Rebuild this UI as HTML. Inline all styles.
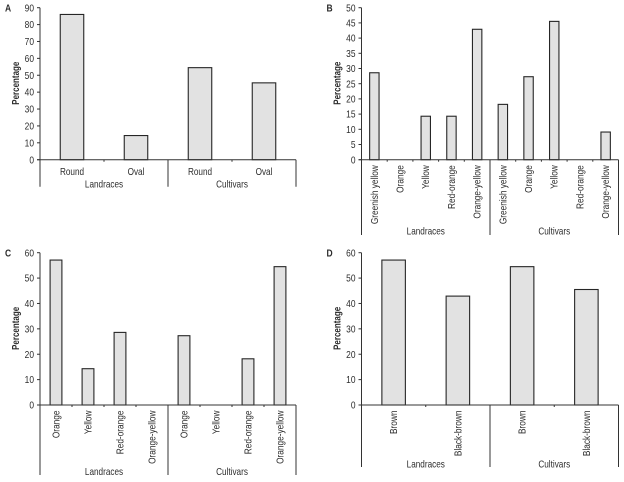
<!DOCTYPE html>
<html lang="en">
<head>
<meta charset="utf-8">
<title>Percentage charts</title>
<style>
html,body{margin:0;padding:0;background:#fff;width:624px;height:482px;overflow:hidden}
svg{display:block;filter:blur(0.35px)}
text{font-family:"Liberation Sans",sans-serif;font-size:10px;fill:#2c2c2c}
</style>
</head>
<body>
<svg id="figure" width="624" height="482" viewBox="0 0 624 482" xmlns="http://www.w3.org/2000/svg"></svg>
<script>
const groupNames = ['Landraces', 'Cultivars'];

const panelACategories = ['Round', 'Oval', 'Round', 'Oval'];
const panelAValues = [86, 14.3, 54.5, 45.5];
const panelATicks = [0, 10, 20, 30, 40, 50, 60, 70, 80, 90];

const panelBCategories = ['Greenish yellow', 'Orange', 'Yellow', 'Red-orange', 'Orange-yellow', 'Greenish yellow', 'Orange', 'Yellow', 'Red-orange', 'Orange-yellow'];
const panelBValues = [28.6, 0, 14.3, 14.3, 42.9, 18.2, 27.3, 45.5, 0, 9.1];
const panelBTicks = [0, 5, 10, 15, 20, 25, 30, 35, 40, 45, 50];

const panelCCategories = ['Orange', 'Yellow', 'Red-orange', 'Orange-yellow', 'Orange', 'Yellow', 'Red-orange', 'Orange-yellow'];
const panelCValues = [57.1, 14.3, 28.6, 0, 27.3, 0, 18.2, 54.5];
const panelCTicks = [0, 10, 20, 30, 40, 50, 60];

const panelDCategories = ['Brown', 'Black-brown', 'Brown', 'Black-brown'];
const panelDValues = [57.1, 42.9, 54.5, 45.5];
const panelDTicks = [0, 10, 20, 30, 40, 50, 60];

const svg = document.getElementById('figure');
const NS = 'http://www.w3.org/2000/svg';
const AXIS = '#333';

function line(parent, x1, y1, x2, y2, width) {
  const el = document.createElementNS(NS, 'line');
  el.setAttribute('x1', x1);
  el.setAttribute('y1', y1);
  el.setAttribute('x2', x2);
  el.setAttribute('y2', y2);
  el.setAttribute('stroke', AXIS);
  el.setAttribute('stroke-width', width || 1);
  parent.appendChild(el);
  return el;
}

function label(parent, str, x, y, anchor, rotate, sx, bold) {
  const el = document.createElementNS(NS, 'text');
  el.textContent = str;
  el.setAttribute('text-anchor', anchor);
  el.setAttribute('transform', 'translate(' + x + ',' + y + ')' + (rotate ? ' rotate(-90)' : '') + ' scale(' + sx + ',1)');
  if (bold) el.setAttribute('font-weight', 'bold');
  parent.appendChild(el);
  return el;
}

function drawPanel(letter, cats, vals, ticks, box) {
  const g = document.createElementNS(NS, 'g');
  
  
  svg.appendChild(g);

  const maxTick = ticks[ticks.length - 1];
  const yScale = v => box.y0 - (v / maxTick) * (box.y0 - box.yTop);
  const step = (box.x1 - box.x0) / cats.length;
  const xScale = i => box.x0 + step * (i + 0.5);
  const half = cats.length / 2;

  // bars
  cats.forEach((c, i) => {
    const r = document.createElementNS(NS, 'rect');
    const top = yScale(vals[i]);
    r.setAttribute('x', xScale(i) - box.barW / 2);
    r.setAttribute('y', top);
    r.setAttribute('width', box.barW);
    r.setAttribute('height', Math.max(0, box.y0 - top));
    r.setAttribute('fill', '#e2e2e2');
    r.setAttribute('stroke', '#262626');
    r.setAttribute('stroke-width', '1.1');
    
    
    g.appendChild(r);
  });

  // y axis
  const yAxis = line(g, box.x0, box.yTop, box.x0, box.y0);
  
  
  ticks.forEach(t => {
    const y = yScale(t);
    line(g, box.x0 - 3, y, box.x0, y);
    const tl = label(g, String(t), box.x0 - 6, y + 3.6, 'end', false, 0.84, false);
    
    
  });

  // x axis and separators
  const xAxis = line(g, box.x0 - 3, box.y0, box.x1, box.y0);
  
  
  for (let i = 1; i < cats.length; i++) {
    if (i !== half) line(g, box.x0 + step * i, box.y0, box.x0 + step * i, box.y0 + 2);
  }
  [0, half, cats.length].forEach(i => {
    const d = line(g, box.x0 + step * i, box.y0, box.x0 + step * i, box.yBottom);
    
    
  });

  // category labels
  cats.forEach((c, i) => {
    const t = box.rotated
      ? label(g, c, xScale(i) + 3.4, box.y0 + 5.5, 'end', true, 0.83, false)
      : label(g, c, xScale(i), box.y0 + 15.2, 'middle', false, 0.82, false);
    
    
  });

  // group labels
  groupNames.forEach((n, i) => {
    const x = box.x0 + step * half * (i + 0.5);
    const t = label(g, n, x, box.groupY, 'middle', false, 0.82, false);
    
    
  });

  // axis title
  const title = label(g, 'Percentage', box.x0 - 21, (box.y0 + box.yTop) / 2 - 0.5, 'middle', true, 0.8, true);
  
  

  // panel letter
  const pl = label(g, letter, box.x0 - 35, box.yTop + 4, 'start', false, 0.85, true);
  
  
}

drawPanel('A', panelACategories, panelAValues, panelATicks,
  {x0: 40, x1: 296, y0: 159.7, yTop: 7.7, yBottom: 186.7, barW: 23.5, rotated: false, groupY: 187.3});
drawPanel('B', panelBCategories, panelBValues, panelBTicks,
  {x0: 361.5, x1: 618.5, y0: 159.7, yTop: 7.7, yBottom: 235, barW: 9.4, rotated: true, groupY: 234.5});
drawPanel('C', panelCCategories, panelCValues, panelCTicks,
  {x0: 40, x1: 296, y0: 405, yTop: 252.7, yBottom: 475, barW: 11.8, rotated: true, groupY: 475});
drawPanel('D', panelDCategories, panelDValues, panelDTicks,
  {x0: 361.5, x1: 618.5, y0: 405, yTop: 252.7, yBottom: 467, barW: 23.5, rotated: true, groupY: 467.5});
</script>
</body>
</html>
